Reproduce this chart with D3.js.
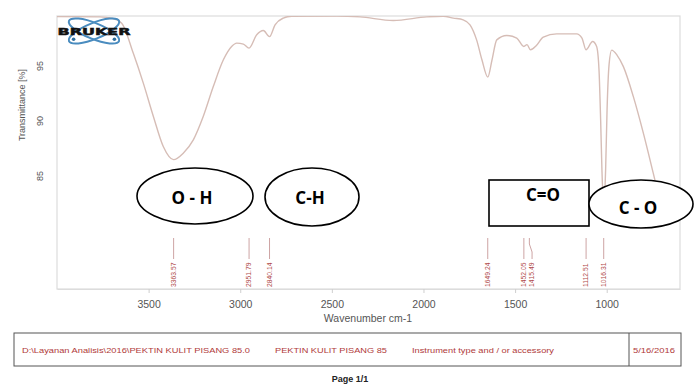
<!DOCTYPE html>
<html>
<head>
<meta charset="utf-8">
<script src="https://cdn.jsdelivr.net/npm/d3@7"></script>
<style>
  html, body { margin: 0; padding: 0; background: #fff; }
  svg { display: block; font-family: "Liberation Sans", Arial, sans-serif; }
</style>
</head>
<body>
<svg id="chart" width="699" height="385"></svg>
<script>
// IR spectrum: wavenumber (cm-1) and transmittance (%)
const wavenumbers = [4000, 3765, 3700, 3647, 3584, 3529, 3474, 3420, 3364, 3311, 3256, 3202, 3147, 3092, 3047, 3019, 2983, 2952, 2910, 2874, 2840, 2810, 2765, 2719, 2474, 2346, 2165, 1982, 1892, 1837, 1783, 1746, 1710, 1681, 1649, 1626, 1600, 1546, 1491, 1452, 1435, 1416, 1385, 1346, 1273, 1164, 1135, 1113, 1077, 1055, 1042, 1033, 1026, 1016, 1006, 998, 987, 973, 944, 909, 855, 800, 746, 698];
const transmittance = [99.45, 99.42, 99.3, 98.85, 96.13, 93.4, 90.37, 87.64, 86.45, 87.04, 88.25, 90.37, 93.09, 95.52, 96.73, 97.04, 96.95, 96.58, 97.79, 98.18, 97.63, 98.7, 99.31, 99.48, 99.5, 99.42, 99.09, 99.42, 99.48, 99.31, 99.15, 98.7, 97.33, 95.52, 93.95, 95.5, 97.33, 97.73, 97.49, 96.73, 96.9, 96.43, 96.8, 97.58, 97.88, 97.88, 97.5, 96.43, 97.18, 96.73, 94.6, 90.0, 85.5, 82.1, 85.5, 91.0, 95.1, 96.4, 95.95, 94.9, 92.2, 88.86, 85.22, 81.9];

// Picked peaks
const peakPositions = [3363.57, 2951.79, 2840.14, 1649.24, 1452.05, 1415.49, 1112.51, 1016.31];
const peakLabels = ["3363.57", "2951.79", "2840.14", "1649.24", "1452.05", "1415.49", "1112.51", "1016.31"];

// Axis ticks
const xTicks = [3500, 3000, 2500, 2000, 1500, 1000];
const yTicks = [85, 90, 95];

// Functional group annotations
const groupNames = ["O - H", "C-H", "C=O", "C - O"];

// Report footer
const footerTexts = ["D:\\Layanan Analisis\\2016\\PEKTIN KULIT PISANG 85.0", "PEKTIN KULIT PISANG 85", "Instrument type and / or accessory"];
const footerDate = "5/16/2016";

const svg = d3.select("#chart");
const plot = { left: 57, right: 680, top: 16, bottom: 289 };

const x = d3.scaleLinear().domain([4000, 600]).range([plot.left, plot.right]);
const y = d3.scaleLinear().domain([74.7, 99.5]).range([plot.bottom, plot.top]);

// Plot frame
svg.append("rect")
  .attr("x", plot.left).attr("y", plot.top)
  .attr("width", plot.right - plot.left).attr("height", plot.bottom - plot.top)
  .attr("fill", "none").attr("stroke", "#dcdcdc").attr("stroke-width", 1.2);

// X axis
const xAxis = svg.append("g")
  .attr("transform", `translate(0,${plot.bottom})`)
  .call(d3.axisBottom(x).tickValues(xTicks).tickFormat(d3.format("d"))
    .tickSize(4).tickSizeOuter(0).tickPadding(8));
xAxis.select(".domain").attr("stroke", "#dcdcdc");
xAxis.selectAll(".tick line").attr("stroke", "#cfcfcf");
xAxis.selectAll(".tick text").attr("fill", "#555").attr("font-size", 10.5)
  .attr("font-family", "Liberation Sans, Arial, sans-serif");

svg.append("text")
  .attr("x", 368).attr("y", 322)
  .attr("text-anchor", "middle").attr("font-size", 10.5).attr("fill", "#555")
  .text("Wavenumber cm-1");

// Y axis (rotated tick labels)
const yAxis = svg.append("g")
  .attr("transform", `translate(${plot.left},0)`)
  .call(d3.axisLeft(y).tickValues(yTicks).tickSize(0).tickSizeOuter(0).tickPadding(0));
yAxis.select(".domain").remove();
yAxis.selectAll(".tick text")
  .attr("fill", "#555").attr("font-size", 9)
  .attr("font-family", "Liberation Sans, Arial, sans-serif")
  .attr("text-anchor", "middle")
  .attr("x", 0).attr("dy", 0)
  .attr("transform", "translate(-14,0) rotate(-90)");

svg.append("text")
  .attr("transform", "translate(25,105) rotate(-90)")
  .attr("text-anchor", "middle").attr("font-size", 9).attr("fill", "#555")
  .text("Transmittance [%]");

// Spectrum line
svg.append("clipPath").attr("id", "plotclip")
  .append("rect").attr("x", plot.left).attr("y", plot.top)
  .attr("width", plot.right - plot.left).attr("height", plot.bottom - plot.top);

const spectrum = wavenumbers.map((w, i) => ({ w, t: transmittance[i] }));
const line = d3.line().x(d => x(d.w)).y(d => y(d.t)).curve(d3.curveMonotoneX);
svg.append("path")
  .datum(spectrum)
  .attr("clip-path", "url(#plotclip)")
  .attr("d", line)
  .attr("fill", "none").attr("stroke", "#d6bdb6").attr("stroke-width", 1.4);

// Peak markers and labels
const peaks = svg.append("g");
peakPositions.forEach((p, i) => {
  const px = x(p);
  const shift = peakLabels[i] === "1415.49" ? 1.5 : 0;
  peaks.append("path")
    .attr("d", shift
      ? `M${px - 1.2},238 L${px - 1.2},244 L${px + shift},252 L${px + shift},259`
      : `M${px},238 L${px},259`)
    .attr("fill", "none").attr("stroke", "#c79a9a").attr("stroke-width", 0.9);
  peaks.append("text")
    .attr("transform", `translate(${px + shift + 2.2},287) rotate(-90)`)
    .attr("font-size", 6.8).attr("fill", "#b04a4a")
    .text(peakLabels[i]);
});

// Instrument logo
const logo = svg.append("g").attr("transform", "translate(94,31)");
[-22, 22].forEach(a => {
  logo.append("ellipse").attr("rx", 27).attr("ry", 8)
    .attr("transform", `rotate(${a})`)
    .attr("fill", "none").attr("stroke", "#4a8cbf").attr("stroke-width", 2);
});
[[-22, 1], [22, -1]].forEach(([a, s]) => {
  const r = a * Math.PI / 180;
  logo.append("circle").attr("cx", -22 * Math.cos(r) * s).attr("cy", -22 * Math.sin(r) * s)
    .attr("r", 1.8).attr("fill", "#2f6f9f");
});
logo.append("text")
  .attr("x", -36.5).attr("y", 3.5)
  .attr("font-family", "DejaVu Sans, sans-serif").attr("font-weight", "bold")
  .attr("font-size", 9.5)
  .attr("textLength", 73).attr("lengthAdjust", "spacingAndGlyphs")
  .attr("fill", "#111").attr("stroke", "#111").attr("stroke-width", 0.5)
  .text("BRUKER");

// Functional group callouts
const callouts = svg.append("g");
const shapes = [
  { kind: "ellipse", cx: 195, cy: 196, rx: 58, ry: 28, tx: 192, ty: 204 },
  { kind: "ellipse", cx: 312, cy: 197, rx: 47, ry: 29, tx: 310, ty: 204 },
  { kind: "rect", x0: 489, y0: 180, x1: 589, y1: 226, tx: 543, ty: 201 },
  { kind: "ellipse", cx: 641, cy: 204, rx: 52, ry: 24, tx: 638, ty: 214 }
];
groupNames.forEach((name, i) => {
  const s = shapes[i];
  if (s.kind === "ellipse") {
    callouts.append("ellipse")
      .attr("cx", s.cx).attr("cy", s.cy).attr("rx", s.rx).attr("ry", s.ry)
      .attr("fill", "#fff").attr("stroke", "#000").attr("stroke-width", 1.6);
  } else {
    callouts.append("rect")
      .attr("x", s.x0).attr("y", s.y0).attr("width", s.x1 - s.x0).attr("height", s.y1 - s.y0)
      .attr("fill", "#fff").attr("stroke", "#000").attr("stroke-width", 1.6);
  }
  callouts.append("text")
    .attr("x", s.tx).attr("y", s.ty)
    .attr("text-anchor", "middle")
    .attr("font-family", "Open Sans, Liberation Sans, sans-serif")
    .attr("font-weight", "bold").attr("font-size", 17).attr("fill", "#000")
    .text(name);
});

// Footer box
const footer = svg.append("g");
footer.append("rect").attr("x", 14).attr("y", 333).attr("width", 667).attr("height", 33)
  .attr("fill", "#fff").attr("stroke", "#555").attr("stroke-width", 1);
footer.append("line").attr("x1", 629).attr("x2", 629).attr("y1", 333).attr("y2", 366)
  .attr("stroke", "#555").attr("stroke-width", 1);
const footerX = [22, 275, 412];
const footerW = [228, 112, 142];
footerTexts.forEach((t, i) => {
  footer.append("text")
    .attr("x", footerX[i]).attr("y", 352.5)
    .attr("font-size", 8).attr("fill", "#b03a3a")
    .attr("textLength", footerW[i]).attr("lengthAdjust", "spacingAndGlyphs")
    .text(t);
});
footer.append("text")
  .attr("x", 633).attr("y", 352.5)
  .attr("font-size", 8).attr("fill", "#b03a3a")
  .attr("textLength", 42).attr("lengthAdjust", "spacingAndGlyphs")
  .text(footerDate);

svg.append("text")
  .attr("x", 350).attr("y", 382)
  .attr("text-anchor", "middle").attr("font-weight", "bold")
  .attr("font-size", 9).attr("fill", "#222")
  .text("Page 1/1");
</script>
</body>
</html>
